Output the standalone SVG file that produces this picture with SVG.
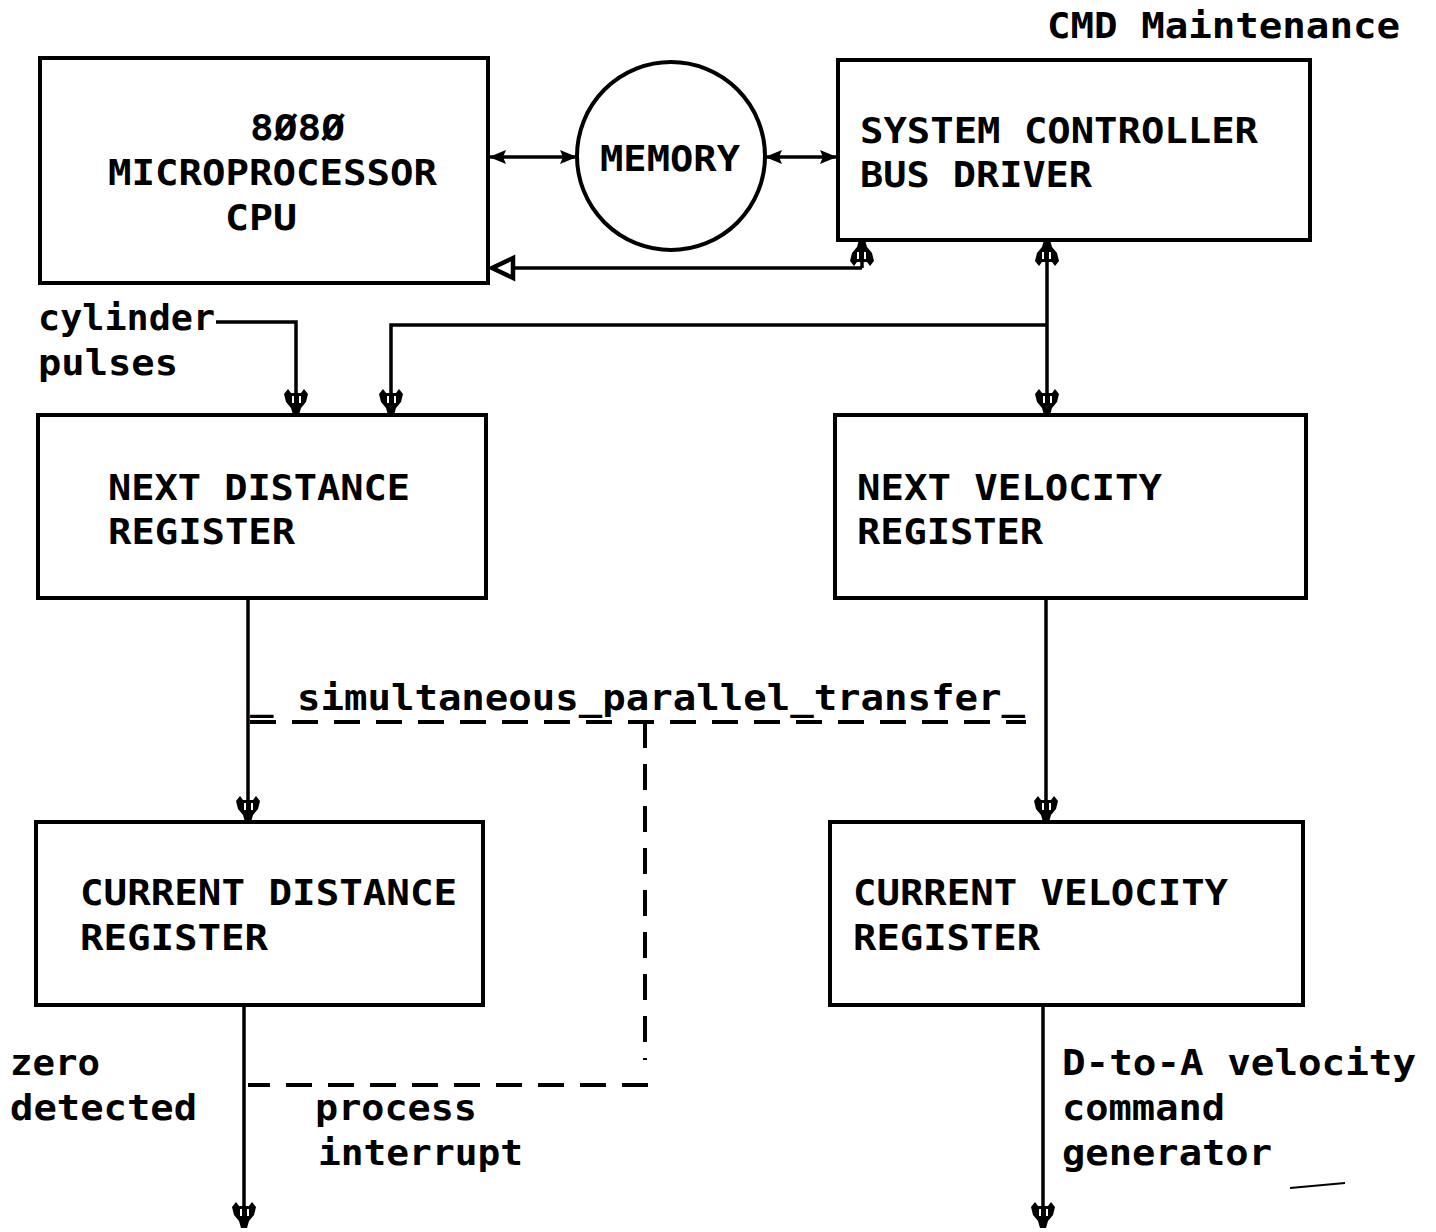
<svg xmlns="http://www.w3.org/2000/svg" width="1436" height="1232" viewBox="0 0 1436 1232">
<style>
.box{fill:none;stroke:#000;stroke-width:4}
.ln{fill:none;stroke:#000;stroke-width:3.5}
.dash{fill:none;stroke:#000;stroke-width:4;stroke-dasharray:26 16}
.up{font-family:"DejaVu Sans Mono","Liberation Mono",monospace;font-size:36px;font-weight:bold;fill:#000}
.lo{font-family:"DejaVu Sans Mono","Liberation Mono",monospace;font-size:36px;font-weight:bold;fill:#000}
</style>
<defs>
<marker id="bell" markerUnits="userSpaceOnUse" markerWidth="40" markerHeight="40" viewBox="-30 -20 40 40" refX="0" refY="0" orient="auto">
<path d="M2,-3 L-5,-5 L-11,-10 L-19,-12 L-24,-8 L-20,-5 L-20,5 L-24,8 L-19,12 L-11,10 L-5,5 L2,3 Z" fill="#000"/>
<path d="M-17,-4 L-10,-4 M-17,3 L-10,3" stroke="#fff" stroke-width="2"/>
</marker>
<marker id="fill" markerUnits="userSpaceOnUse" markerWidth="24" markerHeight="24" viewBox="-20 -12 24 24" refX="0" refY="0" orient="auto-start-reverse">
<path d="M1,0 L-16,-7 L-13,0 L-16,7 Z" fill="#000"/>
</marker>
<marker id="open" markerUnits="userSpaceOnUse" markerWidth="34" markerHeight="34" viewBox="-28 -17 34 34" refX="0" refY="0" orient="auto">
<path d="M-1,0 L-22,-10 L-22,10 Z" fill="#fff" stroke="#000" stroke-width="4.5"/>
</marker>
</defs>

<g id="connectors">
<line class="ln" x1="490" y1="157" x2="576" y2="157" marker-start="url(#fill)" marker-end="url(#fill)"/>
<line class="ln" x1="766" y1="157" x2="836" y2="157" marker-start="url(#fill)" marker-end="url(#fill)"/>
<path class="ln" d="M862,268 L491,268" marker-end="url(#open)"/>
<path class="ln" d="M862,268 L862,242" marker-end="url(#bell)"/>
<path class="ln" d="M1047,325 L1047,242" marker-end="url(#bell)"/>
<path class="ln" d="M1047,325 L1047,413" marker-end="url(#bell)"/>
<path class="ln" d="M1047,325 L391,325 L391,413" marker-end="url(#bell)"/>
<path class="ln" d="M216,322 L296,322 L296,413" marker-end="url(#bell)"/>
<path class="ln" d="M248,598 L248,820" marker-end="url(#bell)"/>
<path class="ln" d="M1046,598 L1046,820" marker-end="url(#bell)"/>
<path class="ln" d="M244,1005 L244,1226" marker-end="url(#bell)"/>
<path class="ln" d="M1043,1005 L1043,1226" marker-end="url(#bell)"/>
<path class="dash" d="M250,722 L1026,722"/>
<path class="dash" d="M645,722 L645,1060"/>
<path class="dash" d="M648,1085 L248,1085"/>
<path d="M1290,1188 L1345,1183" stroke="#000" stroke-width="2" fill="none"/>
</g>

<g id="cpu">
<rect class="box" x="40" y="58" width="448" height="225"/>
<text class="up" x="250" y="140" textLength="95" lengthAdjust="spacingAndGlyphs">8Ø8Ø</text>
<text class="up" x="108" y="185" textLength="329" lengthAdjust="spacingAndGlyphs">MICROPROCESSOR</text>
<text class="up" x="225" y="230" textLength="72" lengthAdjust="spacingAndGlyphs">CPU</text>
</g>

<g id="memory">
<circle class="box" cx="671" cy="156" r="94"/>
<text class="up" x="600" y="171" textLength="140" lengthAdjust="spacingAndGlyphs">MEMORY</text>
</g>

<g id="sysctrl">
<rect class="box" x="838" y="60" width="472" height="180"/>
<text class="up" x="860" y="143" textLength="398" lengthAdjust="spacingAndGlyphs">SYSTEM CONTROLLER</text>
<text class="up" x="860" y="187" textLength="232" lengthAdjust="spacingAndGlyphs">BUS DRIVER</text>
</g>

<g id="nextdist">
<rect class="box" x="38" y="415" width="448" height="183"/>
<text class="up" x="108" y="500" textLength="302" lengthAdjust="spacingAndGlyphs">NEXT DISTANCE</text>
<text class="up" x="108" y="544" textLength="187" lengthAdjust="spacingAndGlyphs">REGISTER</text>
</g>

<g id="nextvel">
<rect class="box" x="835" y="415" width="471" height="183"/>
<text class="up" x="857" y="500" textLength="305" lengthAdjust="spacingAndGlyphs">NEXT VELOCITY</text>
<text class="up" x="857" y="544" textLength="186" lengthAdjust="spacingAndGlyphs">REGISTER</text>
</g>

<g id="curdist">
<rect class="box" x="36" y="822" width="447" height="183"/>
<text class="up" x="80" y="905" textLength="377" lengthAdjust="spacingAndGlyphs">CURRENT DISTANCE</text>
<text class="up" x="80" y="950" textLength="188" lengthAdjust="spacingAndGlyphs">REGISTER</text>
</g>

<g id="curvel">
<rect class="box" x="830" y="822" width="473" height="183"/>
<text class="up" x="853" y="905" textLength="375" lengthAdjust="spacingAndGlyphs">CURRENT VELOCITY</text>
<text class="up" x="853" y="950" textLength="187" lengthAdjust="spacingAndGlyphs">REGISTER</text>
</g>

<g id="labels">
<text class="lo" x="1047" y="38" textLength="353" lengthAdjust="spacingAndGlyphs">CMD Maintenance</text>
<text class="lo" x="38" y="330" textLength="177" lengthAdjust="spacingAndGlyphs">cylinder</text>
<text class="lo" x="38" y="375" textLength="140" lengthAdjust="spacingAndGlyphs">pulses</text>
<text class="lo" x="250" y="710" textLength="775" lengthAdjust="spacingAndGlyphs">_ simultaneous_parallel_transfer_</text>
<text class="lo" x="10" y="1075" textLength="90" lengthAdjust="spacingAndGlyphs">zero</text>
<text class="lo" x="10" y="1120" textLength="187" lengthAdjust="spacingAndGlyphs">detected</text>
<text class="lo" x="315" y="1120" textLength="162" lengthAdjust="spacingAndGlyphs">process</text>
<text class="lo" x="318" y="1165" textLength="205" lengthAdjust="spacingAndGlyphs">interrupt</text>
<text class="lo" x="1062" y="1075" textLength="354" lengthAdjust="spacingAndGlyphs">D-to-A velocity</text>
<text class="lo" x="1062" y="1120" textLength="163" lengthAdjust="spacingAndGlyphs">command</text>
<text class="lo" x="1062" y="1165" textLength="210" lengthAdjust="spacingAndGlyphs">generator</text>
</g>
</svg>
